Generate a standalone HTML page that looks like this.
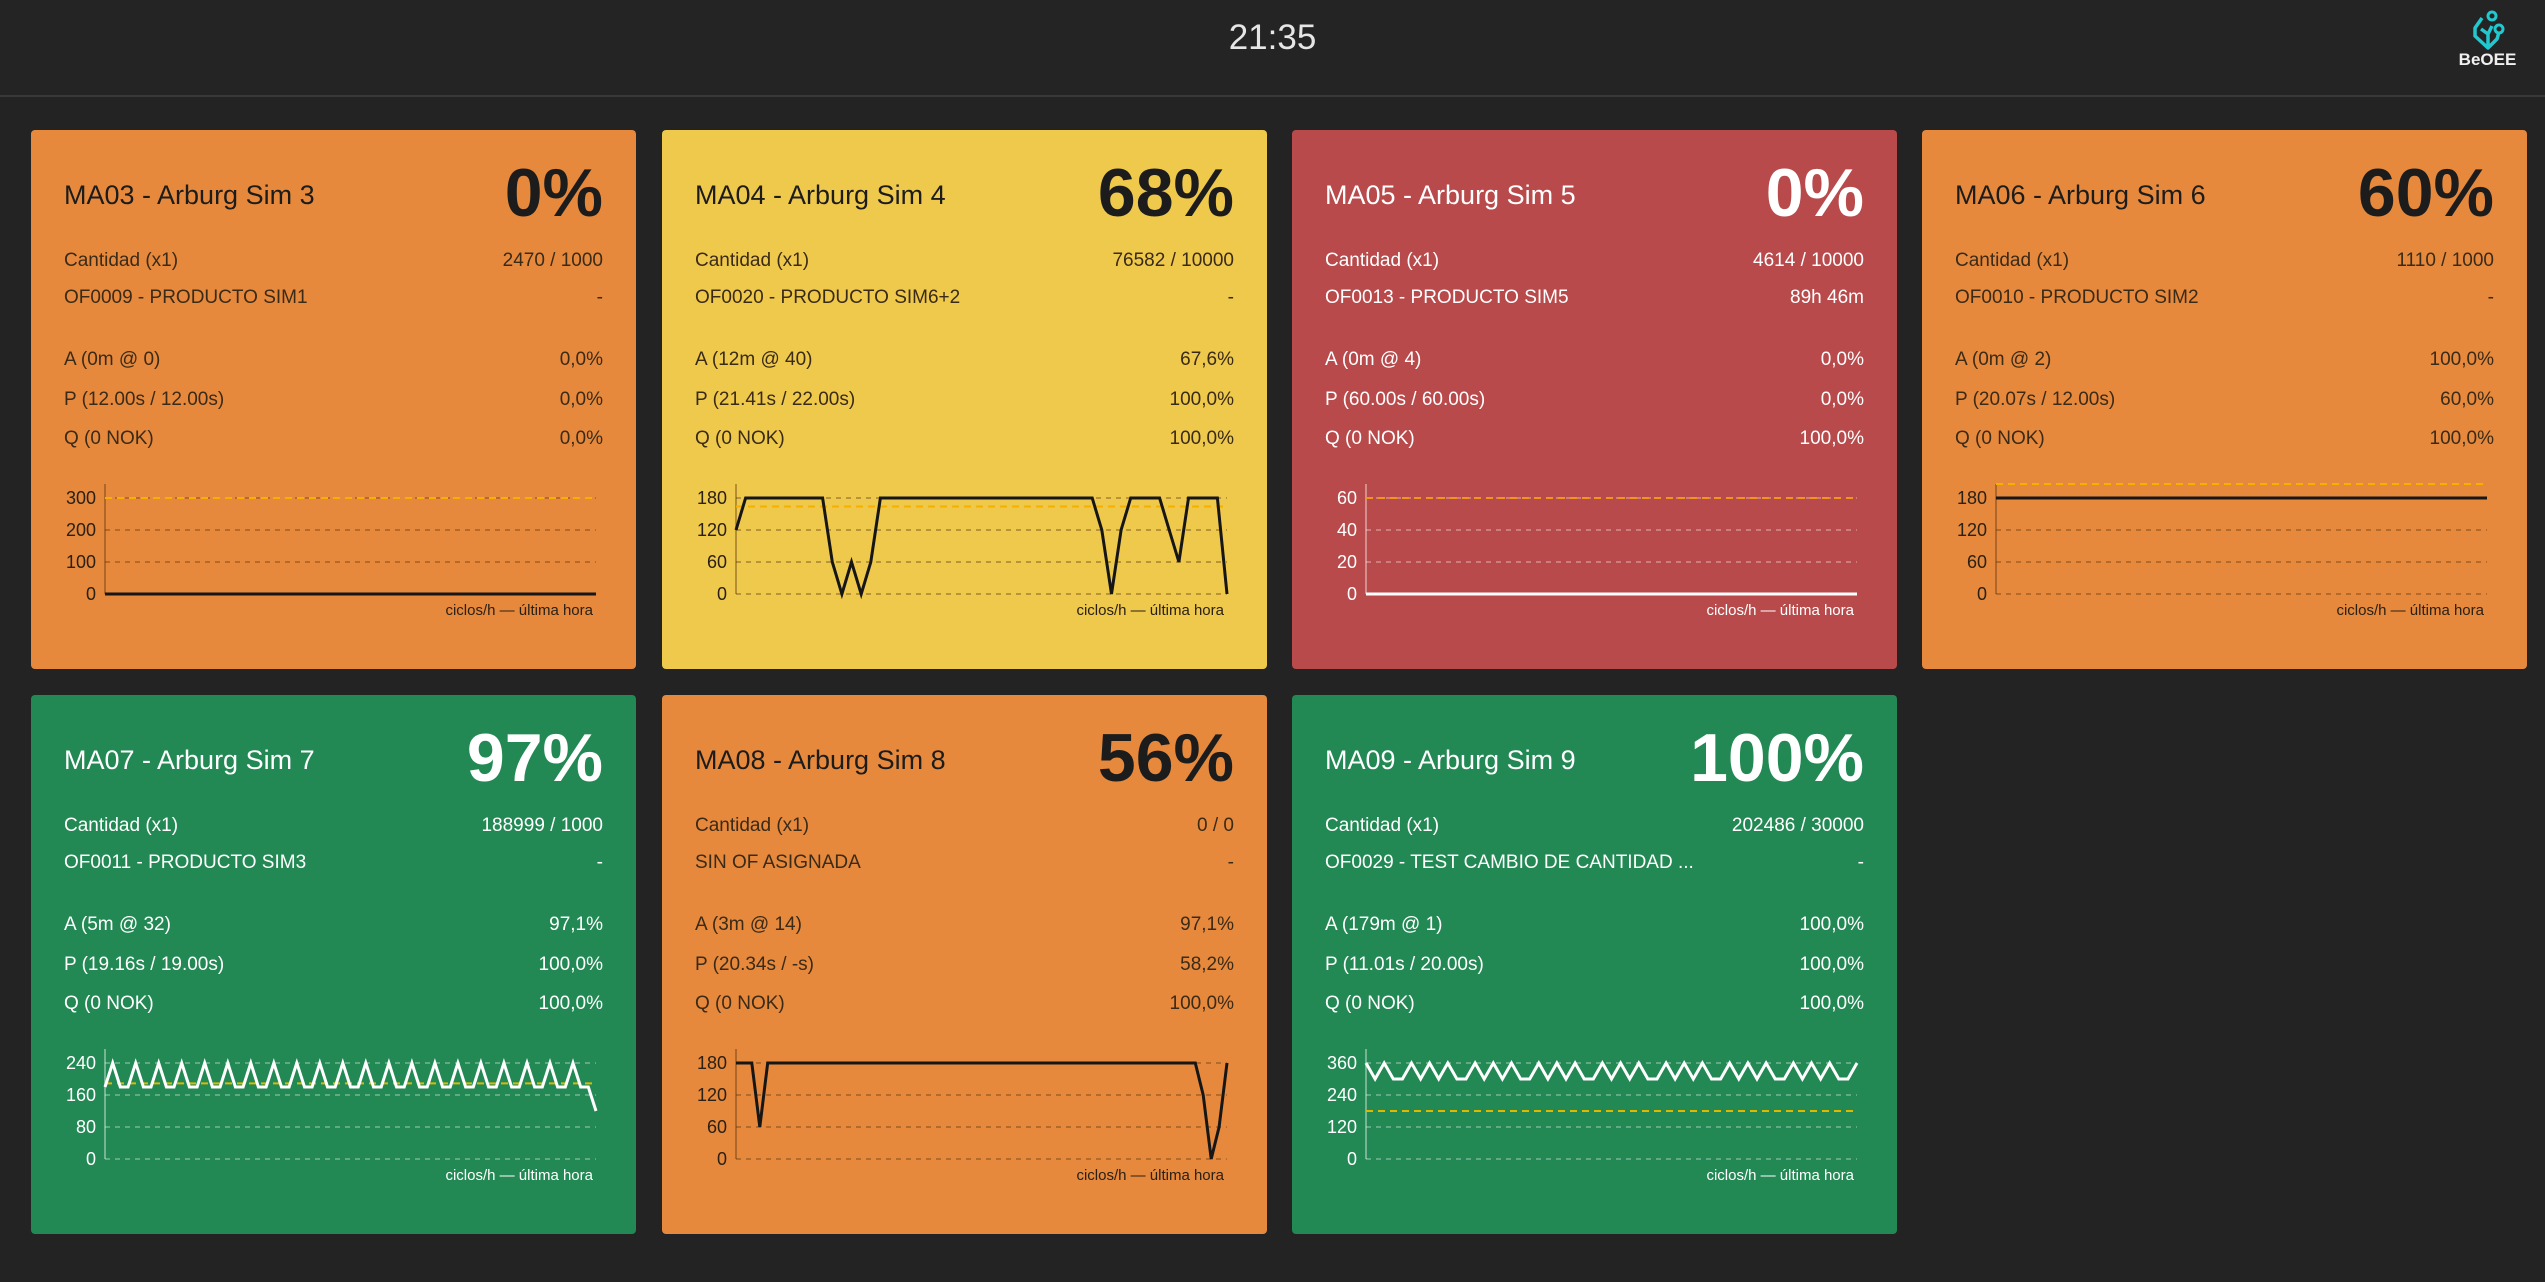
<!DOCTYPE html>
<html><head><meta charset="utf-8">
<style>
html,body{margin:0;padding:0;background:#232323;width:2545px;height:1282px;overflow:hidden;font-family:"Liberation Sans",sans-serif}
#header{position:absolute;left:0;top:0;width:2545px;height:95px;border-bottom:2px solid #383838;background:#242424}
#clock{position:absolute;left:0;width:2545px;top:18px;text-align:center;color:#e6e6e6;font-size:35px}
#logo{position:absolute;left:2452px;top:6px;width:72px;height:56px}
#logo-text{position:absolute;left:2445px;top:50px;width:85px;text-align:center;color:#f0f0f0;font-weight:bold;font-size:17px}
.card{position:absolute;width:605px;height:539px;border-radius:4px}
.card .t{position:absolute;left:33px;top:49px;font-size:27px;line-height:32px;white-space:nowrap}
.card .pct{position:absolute;right:33px;top:25px;font-size:68px;font-weight:bold;line-height:76px}
.row{position:absolute;left:33px;right:33px;font-size:19px;line-height:24px;height:24px}
.row .l{position:absolute;left:0;white-space:nowrap}
.row .r{position:absolute;right:0;white-space:nowrap}
.card svg{position:absolute;left:0;top:330px}
.orange{background:#e6893c;color:#1c1c1c}
.yellow{background:#efc94c;color:#1c1c1c}
.red{background:#b84a4b;color:#fff}
.green{background:#238954;color:#fff}
.orange .row,.yellow .row{color:#3a2a18}
</style></head><body>
<div id="header">
  <div id="clock">21:35</div>
  <svg id="logo" viewBox="0 0 72 56">
    <path d="M30 12 L23 22 L23 30 L36 42 L36 28 L29 23 M36 42 L45 33 L47 26 M36 28 L40 20" fill="none" stroke="#22c8d0" stroke-width="3.5" stroke-linejoin="round"/>
    <circle cx="40" cy="10" r="4" fill="none" stroke="#22c8d0" stroke-width="3"/>
    <circle cx="47" cy="23" r="4" fill="none" stroke="#22c8d0" stroke-width="3"/>
  </svg>
  <div id="logo-text">BeOEE</div>
</div>
<div id="cards"></div>
<script>
// ---- chart data (cycles/hour, last hour) ----
const ma03Values = [0,0,0,0,0,0,0,0,0,0,0,0,0,0,0,0,0,0,0,0,0,0,0,0,0,0,0,0,0,0,0,0,0,0,0,0,0,0,0,0,0,0,0,0,0,0,0,0,0,0,0,0,0,0,0,0,0,0,0,0];
const ma03Ticks = [0,100,200,300];
const ma03Target = 300;
const ma04Values = [120,180,180,180,180,180,180,180,180,180,60,0,60,0,60,180,180,180,180,180,180,180,180,180,180,180,180,180,180,180,180,180,180,180,180,180,180,180,120,0,120,180,180,180,180,120,60,180,180,180,180,0];
const ma04Ticks = [0,60,120,180];
const ma04Target = 164;
const ma05Values = [0,0,0,0,0,0,0,0,0,0,0,0,0,0,0,0,0,0,0,0,0,0,0,0,0,0,0,0,0,0,0,0,0,0,0,0,0,0,0,0,0,0,0,0,0,0,0,0,0,0,0,0,0,0,0,0,0,0,0,0];
const ma05Ticks = [0,20,40,60];
const ma05Target = 60;
const ma06Values = [180,180,180,180,180,180,180,180,180,180,180,180,180,180,180,180,180,180,180,180,180,180,180,180,180,180,180,180,180,180,180,180,180,180,180,180,180,180,180,180,180,180,180,180,180,180,180,180,180,180,180,180,180,180,180,180,180,180,180,180];
const ma06Ticks = [0,60,120,180];
const ma06Target = 300;
const ma07Values = [180,240,180,180,240,180,180,240,180,180,240,180,180,240,180,180,240,180,180,240,180,180,240,180,180,240,180,180,240,180,180,240,180,180,240,180,180,240,180,180,240,180,180,240,180,180,240,180,180,240,180,180,240,180,180,240,180,180,240,180,180,240,180,180,120];
const ma07Ticks = [0,80,160,240];
const ma07Target = 189;
const ma08Values = [180,180,180,60,180,180,180,180,180,180,180,180,180,180,180,180,180,180,180,180,180,180,180,180,180,180,180,180,180,180,180,180,180,180,180,180,180,180,180,180,180,180,180,180,180,180,180,180,180,180,180,180,180,180,180,180,180,180,180,120,0,60,180];
const ma08Ticks = [0,60,120,180];
const ma08Target = null;
const ma09Values = [360,300,360,300,300,360,300,360,300,360,300,300,360,300,360,300,360,300,300,360,300,360,300,360,300,300,360,300,360,300,360,300,300,360,300,360,300,360,300,300,360,300,360,300,360,300,300,360,300,360,300,360,300,300,360];
const ma09Ticks = [0,120,240,360];
const ma09Target = 180;

const cards = [
 {id:'ma03',title:'MA03 - Arburg Sim 3',pct:'0%',cls:'orange',qty:'2470 / 1000',of:'OF0009 - PRODUCTO SIM1',ofr:'-',a:'A (0m @ 0)',av:'0,0%',p:'P (12.00s / 12.00s)',pv:'0,0%',q:'Q (0 NOK)',qv:'0,0%',vals:ma03Values,ticks:ma03Ticks,target:ma03Target},
 {id:'ma04',title:'MA04 - Arburg Sim 4',pct:'68%',cls:'yellow',qty:'76582 / 10000',of:'OF0020 - PRODUCTO SIM6+2',ofr:'-',a:'A (12m @ 40)',av:'67,6%',p:'P (21.41s / 22.00s)',pv:'100,0%',q:'Q (0 NOK)',qv:'100,0%',vals:ma04Values,ticks:ma04Ticks,target:ma04Target},
 {id:'ma05',title:'MA05 - Arburg Sim 5',pct:'0%',cls:'red',qty:'4614 / 10000',of:'OF0013 - PRODUCTO SIM5',ofr:'89h 46m',a:'A (0m @ 4)',av:'0,0%',p:'P (60.00s / 60.00s)',pv:'0,0%',q:'Q (0 NOK)',qv:'100,0%',vals:ma05Values,ticks:ma05Ticks,target:ma05Target},
 {id:'ma06',title:'MA06 - Arburg Sim 6',pct:'60%',cls:'orange',qty:'1110 / 1000',of:'OF0010 - PRODUCTO SIM2',ofr:'-',a:'A (0m @ 2)',av:'100,0%',p:'P (20.07s / 12.00s)',pv:'60,0%',q:'Q (0 NOK)',qv:'100,0%',vals:ma06Values,ticks:ma06Ticks,target:ma06Target},
 {id:'ma07',title:'MA07 - Arburg Sim 7',pct:'97%',cls:'green',qty:'188999 / 1000',of:'OF0011 - PRODUCTO SIM3',ofr:'-',a:'A (5m @ 32)',av:'97,1%',p:'P (19.16s / 19.00s)',pv:'100,0%',q:'Q (0 NOK)',qv:'100,0%',vals:ma07Values,ticks:ma07Ticks,target:ma07Target},
 {id:'ma08',title:'MA08 - Arburg Sim 8',pct:'56%',cls:'orange',qty:'0 / 0',of:'SIN OF ASIGNADA',ofr:'-',a:'A (3m @ 14)',av:'97,1%',p:'P (20.34s / -s)',pv:'58,2%',q:'Q (0 NOK)',qv:'100,0%',vals:ma08Values,ticks:ma08Ticks,target:ma08Target},
 {id:'ma09',title:'MA09 - Arburg Sim 9',pct:'100%',cls:'green',qty:'202486 / 30000',of:'OF0029 - TEST CAMBIO DE CANTIDAD ...',ofr:'-',a:'A (179m @ 1)',av:'100,0%',p:'P (11.01s / 20.00s)',pv:'100,0%',q:'Q (0 NOK)',qv:'100,0%',vals:ma09Values,ticks:ma09Ticks,target:ma09Target}
];
const cardX=[31,662,1292,1922], cardY=[130,695];
const NS='http://www.w3.org/2000/svg';
const host=document.getElementById('cards');

function mk(tag,parent,cls,text){const e=document.createElement(tag);if(cls)e.className=cls;if(text!=null)e.textContent=text;parent.appendChild(e);return e;}
function sv(tag,parent,attrs){const e=document.createElementNS(NS,tag);for(const k in attrs)e.setAttribute(k,attrs[k]);parent.appendChild(e);return e;}

cards.forEach((c,i)=>{
  const card=mk('div',host,'card '+c.cls);
  
  
  card.style.left=cardX[i%4]+'px'; card.style.top=cardY[Math.floor(i/4)]+'px';
  const t=mk('div',card,'t',c.title);
  
  
  const p=mk('div',card,'pct',c.pct);
  
  
  const rows=[['Cantidad (x1)',c.qty,119,'quantity-row'],[c.of,c.ofr,156,'order-row'],[c.a,c.av,218,'availability-row'],[c.p,c.pv,258,'performance-row'],[c.q,c.qv,297,'quality-row']];
  rows.forEach(r=>{
    const row=mk('div',card,'row'); row.style.top=r[2]+'px';
    
    
    mk('span',row,'l',r[0]); mk('span',row,'r',r[1]);
  });
  const light=(c.cls==='red'||c.cls==='green');
  const lineCol=light?'#ffffff':'#161616';
  const gridCol=light?'rgba(255,255,255,0.38)':'rgba(80,45,10,0.45)';
  const txtCol=light?'#ffffff':'#2a2015';
  const tgtCol=c.cls==='green'?'#e0b800':(c.cls==='red'?'#f0961e':'#f5b000');
  const svg=sv('svg',card,{width:605,height:170});
  
  
  const OY=330;
  const x0=74,x1=565,yb=464-OY,ytop=354-OY;
  const maxT=c.ticks[c.ticks.length-1];
  const yS=v=>Math.max(ytop, yb-v*96/maxT);
  const xS=k=>x0+k*(x1-x0)/(c.vals.length-1);
  c.ticks.forEach(tv=>{
    const g=sv('line',svg,{x1:x0,x2:x1,y1:yS(tv),y2:yS(tv),stroke:gridCol,'stroke-width':1.5,'stroke-dasharray':'5,5'});
    
    
    const lb=sv('text',svg,{x:65,y:yS(tv)+6,'text-anchor':'end','font-size':18,fill:txtCol,'font-family':'Liberation Sans, sans-serif'});
    lb.textContent=tv;
    
    
  });
  const ax=sv('line',svg,{x1:x0,x2:x0,y1:ytop,y2:yb,stroke:light?'rgba(255,255,255,0.5)':'rgba(80,45,10,0.5)','stroke-width':1.5});
  
  
  if(c.target!=null){
    const tl=sv('line',svg,{x1:x0,x2:x1,y1:yS(c.target),y2:yS(c.target),stroke:tgtCol,'stroke-width':2,'stroke-dasharray':'7,5'});
    
    
  }
  const pts=c.vals.map((v,k)=>xS(k).toFixed(1)+','+yS(v).toFixed(1)).join(' ');
  const pl=sv('polyline',svg,{points:pts,fill:'none',stroke:lineCol,'stroke-width':3,'stroke-linejoin':'miter'});
  
  
  const cap=sv('text',svg,{x:562,y:155,'text-anchor':'end','font-size':15,fill:txtCol,'font-family':'Liberation Sans, sans-serif'});
  cap.textContent='ciclos/h — última hora';
  
  
});
</script>
</body></html>
